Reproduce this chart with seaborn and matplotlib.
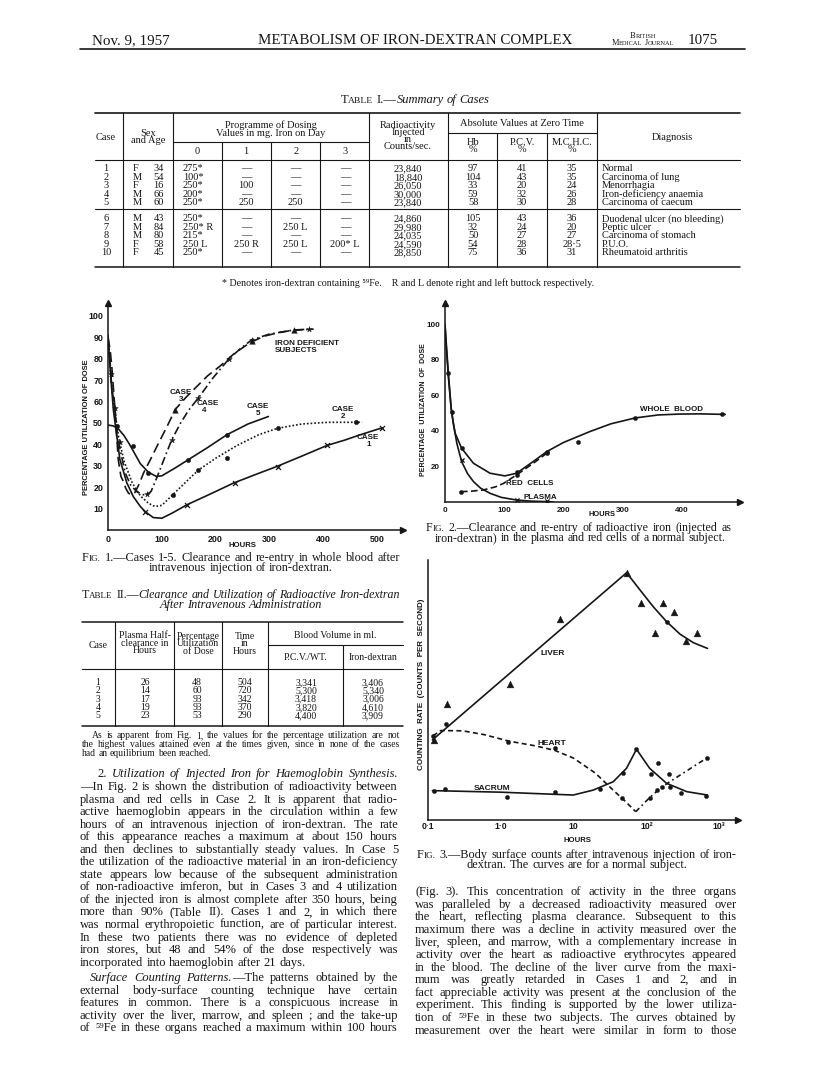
import matplotlib
matplotlib.use('Agg')
import matplotlib.pyplot as plt
import seaborn as sns
from matplotlib.lines import Line2D

sns.set_style('white')
SERIF = ['Liberation Serif', 'DejaVu Serif']
SANS = ['Liberation Sans', 'DejaVu Sans']
plt.rcParams['font.family'] = SERIF
INK = '#161616'

# ── Table I data ──────────────────────────────────────────────────────────
t1_case = ['1', '2', '3', '4', '5', '6', '7', '8', '9', '10']
t1_sex = ['F', 'M', 'F', 'M', 'M', 'M', 'M', 'M', 'F', 'F']
t1_age = ['34', '54', '16', '66', '60', '43', '84', '80', '58', '45']
t1_day0 = ['275*', '100*', '250*', '200*', '250*', '250*', '250* R', '215*', '250 L', '250*']
t1_day1 = ['—', '—', '100', '—', '250', '—', '—', '—', '250 R', '—']
t1_day2 = ['—', '—', '—', '—', '250', '—', '250 L', '—', '250 L', '—']
t1_day3 = ['—', '—', '—', '—', '—', '—', '—', '—', '200* L', '—']
t1_radio = ['23,840', '18,840', '26,050', '30,000', '23,840',
            '24,860', '29,980', '24,035', '24,590', '28,850']
t1_hb = ['97', '104', '33', '59', '58', '105', '32', '50', '54', '75']
t1_pcv = ['41', '43', '20', '32', '30', '43', '24', '27', '28', '36']
t1_mchc = ['35', '35', '24', '26', '28', '36', '20', '27', '28·5', '31']
t1_diag = ['Normal', 'Carcinoma of lung', 'Menorrhagia', 'Iron-deficiency anaemia',
           'Carcinoma of caecum', 'Duodenal ulcer (no bleeding)', 'Peptic ulcer',
           'Carcinoma of stomach', 'P.U.O.', 'Rheumatoid arthritis']

# ── Table II data ─────────────────────────────────────────────────────────
t2_case = ['1', '2', '3', '4', '5']
t2_half = ['26', '14', '17', '19', '23']
t2_util = ['48', '60', '93', '93', '53']
t2_time = ['504', '720', '342', '370', '290']
t2_pcv = ['3,341', '5,300', '3,418', '3,820', '4,400']
t2_iron = ['3,406', '5,340', '3,006', '4,610', '3,909']

# ── Fig. 1 data (hours, % utilization of dose) ────────────────────────────
c1_h = [0, 5, 10, 22, 35, 47, 60, 69, 84, 100, 120, 146, 190, 233, 275, 314, 360, 407, 440, 469, 509]
c1_y = [91, 72, 56, 33, 22, 15.6, 11, 8.6, 5.8, 5.5, 8, 11.7, 16.8, 21.9, 26, 29.7, 34.5, 39.5, 42, 44.5, 47.7]
c1_mh = [69, 146, 236, 315, 407, 509]
c1_my = [8.6, 11.7, 21.8, 29.5, 39.5, 47.7]

c2_h = [0, 5, 10, 20, 30, 45, 60, 75, 87, 100, 120, 145, 168, 200, 240, 280, 315, 360, 410, 472]
c2_y = [90, 73, 60, 43, 32, 22, 16, 12.5, 11, 11.5, 16.4, 22.5, 28, 33.5, 39.5, 44.5, 47.5, 49.5, 50.3, 50.3]
c2_mh = [120, 168, 221, 315, 460]
c2_my = [16.4, 28, 33.6, 47.7, 50.5]

c3_h = [0, 4, 7, 13, 19, 24, 28.5, 33, 38, 43, 50, 58, 66, 80, 94, 110, 125, 145, 165, 185,
        208, 235, 264, 290, 314, 345, 376]
c3_y = [90, 84, 76.6, 56, 33, 25, 22.7, 19.5, 17.2, 16.5, 17.5, 21.5, 26.6, 33.5, 40.6, 48.5,
        56.3, 62, 67, 72, 76.5, 82.5, 87.5, 90.5, 92, 93.4, 93.8]
c3_mh = [125, 267, 345]
c3_my = [56, 88.3, 93.4]

c4_h = [0, 4, 7, 13, 16, 22, 32, 42, 53, 63, 72, 80, 90, 104, 118.5, 135, 150, 168, 195, 224,
        245, 267, 300, 340, 382]
c4_y = [88, 78, 66, 57, 48, 38, 26.6, 21, 18, 16.5, 16.4, 18, 24, 33, 42.2, 50, 56, 61.7, 71,
        79.7, 84.5, 88.8, 91.5, 93.2, 93.8]
c4_mh = [5, 13, 22, 72, 118.5, 168, 224, 267, 373]
c4_my = [73, 57, 41, 16.6, 42.2, 61.7, 79.7, 88.8, 93.8]

c5_h = [0, 10, 20, 30, 40, 50, 60, 75, 90, 100, 125, 149, 185, 221, 260, 298]
c5_y = [49, 48.6, 47, 44, 40, 35.5, 31, 27, 25, 25.3, 29, 32.8, 38.5, 44.5, 49.5, 53]
c5_mh = [16, 47, 75, 149, 221]
c5_my = [48.6, 39, 26.6, 32.8, 44.5]

# ── Fig. 2 data ───────────────────────────────────────────────────────────
wb_h = [0, 1.7, 5.6, 11, 17, 28, 48, 76, 101, 121, 149, 172, 200, 245, 280, 321, 360, 397, 430, 473]
wb_y = [100, 91.5, 72.7, 50.5, 38.8, 30.3, 21.8, 16.2, 14.7, 16.2, 22.8, 28.4, 33.5, 39.7, 44,
        47.3, 49, 49.5, 49.6, 49.3]
wb_mh = [5.6, 11, 28, 121, 172, 225, 321, 468]
wb_my = [72.7, 50.5, 30.3, 17, 28.4, 33.5, 47.3, 49.7]
pl_h = [0, 2, 5.6, 10, 14, 20, 28, 38, 48, 60, 76, 95, 121, 145, 172, 183]
pl_y = [100, 88, 70.8, 54, 44.4, 33, 22.8, 16, 11.5, 7.8, 4.9, 2.6, 1.1, 0.5, 0.2, 0]
pl_mh = [28, 121, 172]
pl_my = [23.6, 1.3, 0.4]
rc_h = [27, 45, 65, 85, 99, 121, 149, 172]
rc_y = [5.8, 6.1, 6.8, 8.5, 10.5, 15.3, 21.8, 27.5]
rc_mh = [27, 121, 172]
rc_my = [5.8, 15.3, 27.5]

# ── Fig. 3 data (hours on log scale, counting rate in arbitrary units) ────
lv_x = [0.115, 53.6, 81.8, 124.8, 190, 290, 443, 692]
lv_y = [30.8, 95.1, 88.5, 82, 76.3, 71.5, 68.2, 66]
lv_tx = [0.12, 0.183, 1.36, 6.5, 53.6, 84.5, 169, 242, 131, 350, 490]
lv_ty = [30.8, 44.5, 52.2, 77.2, 95.1, 83.6, 83.6, 79.9, 71.8, 68.8, 71.8]
lv_dx = [0.175, 190]
lv_dy = [36.8, 76.3]
ht1_x = [0.117, 0.15, 0.3, 0.6, 1.26, 3, 5.5, 10, 20, 35, 50, 71.6]
ht1_y = [32.4, 34.4, 34.3, 32.8, 30.4, 28.5, 26.8, 23.8, 18, 11.5, 7.5, 3.2]
ht2_x = [71.6, 111, 165, 300, 692]
ht2_y = [3.2, 8.6, 12.8, 17.5, 24]
ht_dx = [0.117, 1.26, 5.5, 46, 111, 142, 165, 214, 692]
ht_dy = [32.4, 30.1, 27.6, 8.3, 8.6, 11.5, 12.8, 12.8, 24]
sc_x = [0.115, 1, 9.9, 18.6, 35, 53.5, 73.3, 111, 190, 360, 692]
sc_y = [11.3, 10.7, 9.6, 11.5, 14.7, 19.9, 27.2, 19.9, 14.1, 10.9, 9.6]
sc_dx = [0.12, 0.17, 1.23, 5.5, 23.1, 48, 73.3, 115, 145, 204, 297, 670]
sc_dy = [11.3, 12, 8.7, 10.9, 11.8, 17.9, 27.2, 17.8, 21.8, 17.6, 10.3, 9.2]

# ── Page geometry helpers (pixel coords of the 816x1083 page) ─────────────
W, H = 816, 1083
fig = plt.figure(figsize=(W / 100, H / 100), dpi=100)
fig.patch.set_facecolor('white')
R = fig.canvas.get_renderer()


def fx(x):
    return x / W


def fy(y):
    return 1 - y / H


def put(x, y, s, size, ha='left', family=SERIF, **kw):
    return fig.text(fx(x), fy(y), s, fontsize=size, ha=ha, va='baseline',
                    family=family, color=INK, **kw)


def block(x, y, s, size, ls=0.78, family=SERIF, **kw):
    # multi-line header cell, centred on (x, y)
    return fig.text(fx(x), fy(y), s, fontsize=size, ha='center', va='center',
                    multialignment='center', linespacing=ls, family=family, color=INK, **kw)


def hline(x0, x1, y, lw=0.8):
    fig.add_artist(Line2D([fx(x0), fx(x1)], [fy(y), fy(y)], transform=fig.transFigure,
                          color=INK, lw=lw))


def vline(x, y0, y1, lw=0.8):
    fig.add_artist(Line2D([fx(x), fx(x)], [fy(y0), fy(y1)], transform=fig.transFigure,
                          color=INK, lw=lw))


def parse(spec):
    words, ital, small = [], False, False
    for raw in spec.split():
        pieces, buf = [], ''
        for ch in raw:
            if ch in '_^':
                if buf:
                    pieces.append((buf, ital, small))
                    buf = ''
                if ch == '_':
                    ital = not ital
                else:
                    small = not small
            else:
                buf += ch
        if buf:
            pieces.append((buf, ital, small))
        words.append(pieces)
    return words


def rich(x, y, spec, size, ha='left', x1=None, family=SERIF, weight='normal'):
    """_ toggles italic, ^ toggles small caps size; x1 -> justify to x1."""
    words = parse(spec)
    while True:
        placed = []
        for pieces in words:
            objs = []
            for s, it, sm in pieces:
                t = fig.text(0, fy(y), s, fontsize=size * (0.76 if sm else 1),
                             style='italic' if it else 'normal', family=family,
                             weight=weight, va='baseline', color=INK)
                objs.append((t, t.get_window_extent(R).width))
            placed.append(objs)
        wlen = [sum(w for _, w in o) for o in placed]
        em = size * 100 / 72
        gap = em * 0.25
        if x1 is not None and len(placed) > 1:
            gap = (x1 - x - sum(wlen)) / (len(placed) - 1)
            if gap < em * 0.17:
                for o in placed:
                    for t, _ in o:
                        t.remove()
                size *= 0.97
                continue
        break
    total = sum(wlen) + gap * (len(placed) - 1)
    cx = x if ha == 'left' else (x - total / 2 if ha == 'center' else x - total)
    for objs in placed:
        for t, w in objs:
            t.set_x(fx(cx))
            cx += w
        cx += gap


# ── Running head ──────────────────────────────────────────────────────────
put(92, 44, 'Nov. 9, 1957', 10.8)
put(415, 44, 'METABOLISM OF IRON-DEXTRAN COMPLEX', 10.8, ha='center')
rich(643, 38, 'B^RITISH^', 6, ha='center')
rich(643, 45, 'M^EDICAL^ J^OURNAL^', 6, ha='center')
put(688, 44, '1075', 10.8)
hline(80, 745, 49, lw=1.2)

# ── Table I ───────────────────────────────────────────────────────────────
TS = 7.5
rich(415, 103, 'T^ABLE^ I.—_Summary of Cases_', 9, ha='center')
hline(95, 740, 113, lw=1.2)
hline(173, 369, 142)
hline(448, 597, 133)
hline(95, 740, 160)
hline(95, 740, 209)
hline(95, 740, 267, lw=1.1)
for xv in (123, 173, 369, 448, 597):
    vline(xv, 113, 267)
for xv in (222, 271, 320):
    vline(xv, 142, 267)
for xv in (497, 547):
    vline(xv, 133, 267)

block(106, 137, 'Case', TS)
block(148, 137, 'Sex\nand Age', TS)
block(271, 129, 'Programme of Dosing\nValues in mg. Iron on Day', TS)
for xv, lab in zip((197, 246, 296, 345), ('0', '1', '2', '3')):
    block(xv, 151, lab, TS)
block(408, 136, 'Radioactivity\nInjected\nin\nCounts/sec.', TS, ls=0.72)
block(522, 124, 'Absolute Values at Zero Time', TS)
for xv, lab in zip((473, 522, 572), ('Hb', 'P.C.V.', 'M.C.H.C.')):
    block(xv, 146, lab + '\n%', TS)
block(672, 137, 'Diagnosis', TS)

row_y = [171.3, 179.8, 188.3, 196.8, 205.3, 221.3, 229.8, 238.3, 246.8, 255.3]
for i, yv in enumerate(row_y):
    put(106, yv, t1_case[i], TS, ha='center')
    put(133, yv, t1_sex[i], TS)
    put(164, yv, t1_age[i], TS, ha='right')
    put(183, yv, t1_day0[i], TS)
    put(246, yv, t1_day1[i], TS, ha='center')
    put(295, yv, t1_day2[i], TS, ha='center')
    put(345, yv, t1_day3[i], TS, ha='center')
    put(408, yv, t1_radio[i], TS, ha='center')
    put(473, yv, t1_hb[i], TS, ha='center')
    put(522, yv, t1_pcv[i], TS, ha='center')
    put(572, yv, t1_mchc[i], TS, ha='center')
    put(602, yv, t1_diag[i], TS)
put(408, 286, '* Denotes iron-dextran containing ⁵⁹Fe.    R and L denote right and left buttock respectively.',
    7.2, ha='center')


def style_axes(ax, size=6):
    sns.despine(ax=ax)
    for side in ('left', 'bottom'):
        ax.spines[side].set_color(INK)
        ax.spines[side].set_linewidth(1.1)
    ax.set_facecolor('none')
    ax.plot(1, 0, '>', color=INK, ms=4.5, transform=ax.get_yaxis_transform(), clip_on=False)
    ax.plot(0, 1, '^', color=INK, ms=4.5, transform=ax.get_xaxis_transform(), clip_on=False)
    ax.tick_params(direction='out', length=2, width=0.8, pad=1.5, colors=INK)
    for t in ax.get_xticklabels() + ax.get_yticklabels():
        t.set_fontfamily(SANS)
        t.set_fontsize(size)
        t.set_fontweight('bold')
    ax.set_xlabel('')
    ax.set_ylabel('')


def curve(ax, x, y, ls='-'):
    sns.lineplot(x=x, y=y, ax=ax, color=INK, lw=1.2, linestyle=ls, sort=False, estimator=None)


def dots(ax, x, y, marker='o', s=9):
    if marker in ('x', '+'):
        sns.scatterplot(x=x, y=y, ax=ax, marker=marker, s=s, color=INK, linewidth=0.9)
    else:
        sns.scatterplot(x=x, y=y, ax=ax, marker=marker, s=s, color=INK, edgecolor=INK, linewidth=0.3)


def label(x, y, s, size=5.8, ha='center'):
    put(x, y, s, size, ha=ha, family=SANS, weight='bold')


# ── Fig. 1 ────────────────────────────────────────────────────────────────
ax1 = fig.add_axes([fx(108), fy(530), (403 - 108) / W, (530 - 303) / H])
curve(ax1, c1_h, c1_y, '-')
dots(ax1, c1_mh, c1_my, 'x', 13)
curve(ax1, c2_h, c2_y, (0, (1, 1.2)))
dots(ax1, c2_mh, c2_my, 'o', 10)
curve(ax1, c3_h, c3_y, (0, (6, 3)))
dots(ax1, c3_mh, c3_my, '^', 16)
curve(ax1, c4_h, c4_y, (0, (5, 2, 1, 2)))
dots(ax1, c4_mh, c4_my, '*', 18)
curve(ax1, c5_h, c5_y, '-')
dots(ax1, c5_mh, c5_my, 'o', 10)
ax1.set_xlim(0, 548)
ax1.set_ylim(0, 106)
ax1.set_xticks([0, 100, 200, 300, 400, 500])
ax1.set_yticks(list(range(10, 101, 10)))
style_axes(ax1, 6.4)
fig.text(fx(87), fy(427), 'PERCENTAGE UTILIZATION OF DOSE', rotation=90, ha='center', va='center',
         fontsize=5.4, family=SANS, weight='bold', color=INK)
label(242, 547, 'HOURS', 5.6)
label(275, 345, 'IRON DEFICIENT', ha='left')
label(275, 352, 'SUBJECTS', ha='left')
for (xv, yv, lab) in [(181, 394, 'CASE'), (181, 401, '3'), (208, 405, 'CASE'), (204, 412, '4'),
                      (258, 408, 'CASE'), (258, 415, '5'), (343, 411, 'CASE'), (343, 418, '2'),
                      (368, 439, 'CASE'), (369, 446, '1')]:
    label(xv, yv, lab)
rich(82, 561, 'F^IG.^ 1.—Cases 1-5. Clearance and re-entry in whole blood after', 8.8, x1=400)
rich(241, 571, 'intravenous injection of iron-dextran.', 8.8, ha='center')

# ── Fig. 2 ────────────────────────────────────────────────────────────────
ax2 = fig.add_axes([fx(445), fy(502), (740 - 445) / W, (502 - 303) / H])
curve(ax2, wb_h, wb_y, '-')
dots(ax2, wb_mh, wb_my, 'o', 9)
curve(ax2, pl_h, pl_y, '-')
dots(ax2, pl_mh, pl_my, 'x', 9)
curve(ax2, rc_h, rc_y, (0, (4, 2)))
dots(ax2, rc_mh, rc_my, 'o', 9)
ax2.set_xlim(0, 498)
ax2.set_ylim(0, 112)
ax2.set_xticks([0, 100, 200, 300, 400])
ax2.set_yticks([20, 40, 60, 80, 100])
style_axes(ax2, 5.8)
fig.text(fx(423), fy(410), 'PERCENTAGE  UTILIZATION  OF  DOSE', rotation=90, ha='center', va='center',
         fontsize=5, family=SANS, weight='bold', color=INK)
label(602, 516, 'HOURS', 5.4)
label(672, 411, 'WHOLE  BLOOD')
label(530, 485, 'RED  CELLS')
label(540, 499, 'PLASMA')
rich(426, 531, 'F^IG.^ 2.—Clearance and re-entry of radioactive iron (injected as', 8.6, x1=731)
rich(580, 541, 'iron-dextran) in the plasma and red cells of a normal subject.', 8.6, ha='center')

# ── Fig. 3 ────────────────────────────────────────────────────────────────
ax3 = fig.add_axes([fx(428), fy(820), (738 - 428) / W, (820 - 560) / H])
ax3.set_xscale('log')
curve(ax3, lv_x, lv_y, '-')
dots(ax3, lv_tx, lv_ty, '^', 24)
dots(ax3, lv_dx, lv_dy, 'o', 9)
curve(ax3, ht1_x, ht1_y, (0, (3, 2)))
curve(ax3, ht2_x, ht2_y, (0, (3, 2, 1, 2)))
dots(ax3, ht_dx, ht_dy, 'o', 9)
curve(ax3, sc_x, sc_y, '-')
dots(ax3, sc_dx, sc_dy, 'o', 9)
ax3.set_xlim(0.1, 10 ** 3.26)
ax3.set_ylim(0, 100)
ax3.set_xticks([0.1, 1, 10, 100, 1000])
ax3.set_xticklabels(['0·1', '1·0', '10', '10²', '10³'])
ax3.minorticks_off()
ax3.set_yticks([])
style_axes(ax3, 6.2)
ax3.tick_params(axis='x', direction='in', length=3)
fig.text(fx(421), fy(684), 'COUNTING  RATE  (COUNTS  PER  SECOND)', rotation=90, ha='center', va='center',
         fontsize=5.8, family=SANS, weight='bold', color=INK)
label(577, 842, 'HOURS', 5.6)
label(553, 655, 'LIVER', 6)
label(552, 745, 'HEART', 6)
label(492, 790, 'SACRUM', 6)
rich(417, 858, 'F^IG.^ 3.—Body surface counts after intravenous injection of iron-', 8.8, x1=737)
rich(577, 868, 'dextran. The curves are for a normal subject.', 8.8, ha='center')

# ── Table II ──────────────────────────────────────────────────────────────
T2 = 7
rich(82, 598, 'T^ABLE^ II.—_Clearance and Utilization of Radioactive Iron-dextran_', 8.8, x1=400)
rich(241, 608, '_After Intravenous Administration_', 8.8, ha='center')
hline(82, 403, 622, lw=1.1)
hline(268, 403, 645)
hline(82, 403, 669)
hline(82, 403, 726, lw=1.1)
for xv in (115, 174, 222, 268):
    vline(xv, 622, 726)
vline(343, 645, 726)
block(98, 646, 'Case', T2)
block(145, 643, 'Plasma Half-\nclearance in\nHours', T2)
block(198, 644, 'Percentage\nUtilization\nof Dose', T2)
block(245, 644, 'Time\nin\nHours', T2, ls=0.72)
block(335, 635, 'Blood Volume in ml.', T2)
block(306, 657, 'P.C.V./WT.', T2)
block(373, 657, 'Iron-dextran', T2)
for i, yv in enumerate([685, 693.3, 701.6, 710, 718.3]):
    put(98, yv, t2_case[i], T2, ha='center')
    put(145, yv, t2_half[i], T2, ha='center')
    put(197, yv, t2_util[i], T2, ha='center')
    put(245, yv, t2_time[i], T2, ha='center')
    put(306, yv, t2_pcv[i], T2, ha='center')
    put(373, yv, t2_iron[i], T2, ha='center')
rich(92, 738, 'As is apparent from Fig. 1, the values for the percentage utilization are not', 6.9, x1=400)
rich(82, 747, 'the highest values attained even at the times given, since in none of the cases', 6.9, x1=400)
rich(82, 756, 'had an equilibrium been reached.', 6.9)

# ── Body text ─────────────────────────────────────────────────────────────
BS = 9.0
left_lines = [
    '—In Fig. 2 is shown the distribution of radioactivity between',
    'plasma and red cells in Case 2. It is apparent that radio-',
    'active haemoglobin appears in the circulation within a few',
    'hours of an intravenous injection of iron-dextran. The rate',
    'of this appearance reaches a maximum at about 150 hours',
    'and then declines to substantially steady values. In Case 5',
    'the utilization of the radioactive material in an iron-deficiency',
    'state appears low because of the subsequent administration',
    'of non-radioactive imferon, but in Cases 3 and 4 utilization',
    'of the injected iron is almost complete after 350 hours, being',
    'more than 90% (Table II). Cases 1 and 2, in which there',
    'was normal erythropoietic function, are of particular interest.',
    'In these two patients there was no evidence of depleted',
    'iron stores, but 48 and 54% of the dose respectively was',
]
rich(97, 777, '2. _Utilization of Injected Iron for Haemoglobin Synthesis._', BS, x1=398)
yb = 790
for ln in left_lines:
    rich(80, yb, ln, BS, x1=398)
    yb += 12.55
rich(80, yb, 'incorporated into haemoglobin after 21 days.', BS)
para2 = [
    'external body-surface counting technique have certain',
    'features in common. There is a conspicuous increase in',
    'activity over the liver, marrow, and spleen ; and the take-up',
    'of ⁵⁹Fe in these organs reached a maximum within 100 hours',
]
yb = 981
rich(90, yb, '_Surface Counting Patterns._—The patterns obtained by the', BS, x1=398)
for ln in para2:
    yb += 12.55
    rich(80, yb, ln, BS, x1=398)

right_lines = [
    '(Fig. 3). This concentration of activity in the three organs',
    'was paralleled by a decreased radioactivity measured over',
    'the heart, reflecting plasma clearance. Subsequent to this',
    'maximum there was a decline in activity measured over the',
    'liver, spleen, and marrow, with a complementary increase in',
    'activity over the heart as radioactive erythrocytes appeared',
    'in the blood. The decline of the liver curve from the maxi-',
    'mum was greatly retarded in Cases 1 and 2, and in',
    'fact appreciable activity was present at the conclusion of the',
    'experiment. This finding is supported by the lower utiliza-',
    'tion of ⁵⁹Fe in these two subjects. The curves obtained by',
    'measurement over the heart were similar in form to those',
]
yb = 895
for ln in right_lines:
    rich(415, yb, ln, BS, x1=737)
    yb += 12.6

fig.savefig('out.png', dpi=100, facecolor='white')
